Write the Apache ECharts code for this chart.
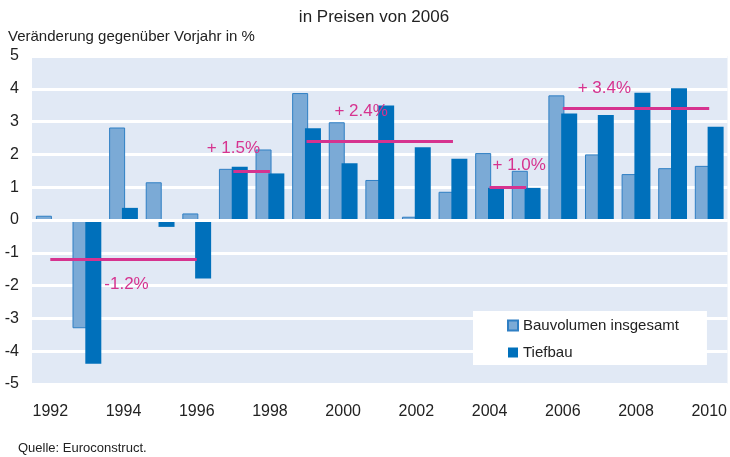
<!DOCTYPE html>
<html>
<head>
<meta charset="utf-8">
<title>Bauvolumen</title>
<style type="text/css">
html, body {
	margin: 0;
	padding: 0;
	background: #fff;
}
#main {
	width: 730px;
	height: 457px;
}
</style>
</head>
<body>
<div id="main"></div>
<script src="https://cdn.jsdelivr.net/npm/echarts@6/dist/echarts.min.js"></script>
<script type="text/javascript">
// Jahre
var years = ['1992','1993','1994','1995','1996','1997','1998','1999','2000','2001',
	'2002','2003','2004','2005','2006','2007','2008','2009','2010'];
// Bauvolumen insgesamt, Veränderung in %
var gesamt = [0.13, -3.3, 2.82, 1.15, 0.2, 1.56, 2.15, 3.87, 2.98, 1.22,
	0.1, 0.86, 2.04, 1.5, 3.8, 2.0, 1.4, 1.58, 1.65];
// Tiefbau, Veränderung in %
var tiefbau = [-0.05, -4.38, 0.37, -0.21, -1.78, 1.62, 1.42, 2.8, 1.73, 3.49,
	2.22, 1.87, 0.98, 0.98, 3.25, 3.2, 3.88, 4.02, 2.84];
// Durchschnitte: [von, bis, Wert]
var avgs = [['1992','1996',-1.2], ['1997','1998',1.5], ['1999','2003',2.4],
	['2004','2005',1.0], ['2006','2010',3.4]];
var avgLabels = ['-1.2%', '+ 1.5%', '+ 2.4%', '+ 1.0%', '+ 3.4%'];

var magenta = '#d6338f';
var font = 'Liberation Sans, Arial, sans-serif';

var avgLines = [{ yAxis: 0, lineStyle: { color: '#fff', width: 3 } }];
for (var i = 0; i < avgs.length; i++) {
	avgLines.push([{ coord: [avgs[i][0], avgs[i][2]] }, { coord: [avgs[i][1], avgs[i][2]] }]);
}

// Beschriftung der Durchschnitte
var labelPos = [
	{ coord: ['1994', -1.97], offset: [3, 0] },
	{ coord: ['1997', 2.2], offset: [0, 0] },
	{ coord: ['2000', 3.3], offset: [18, 0] },
	{ coord: ['2005', 1.68], offset: [-7, 0] },
	{ coord: ['2007', 4.0], offset: [5, 0] }
];
var avgPoints = labelPos.map(function (p, i) {
	return {
		coord: p.coord,
		label: { show: true, position: 'inside', offset: p.offset, formatter: avgLabels[i] }
	};
});

var option = {
	animation: false,
	textStyle: { fontFamily: font },
	title: [
		{
			text: 'in Preisen von 2006',
			left: 369, top: 4, textAlign: 'center',
			textStyle: { fontSize: 17, fontWeight: 'normal', color: '#222', fontFamily: font }
		},
		{
			text: 'Veränderung gegenüber Vorjahr in %',
			left: 3, top: 24,
			textStyle: { fontSize: 15, fontWeight: 'normal', color: '#222', fontFamily: font }
		},
		{
			text: 'Quelle: Euroconstruct.',
			left: 13, top: 437,
			textStyle: { fontSize: 13, fontWeight: 'normal', color: '#222', fontFamily: font }
		}
	],
	legend: {
		orient: 'vertical',
		left: 473,
		top: 311,
		backgroundColor: '#fff',
		padding: [7, 28, 5, 34],
		itemGap: 12,
		itemWidth: 10,
		itemHeight: 10,
		textStyle: { fontSize: 15, color: '#222', fontFamily: font },
		data: [
			{ name: 'Bauvolumen insgesamt', icon: 'rect' },
			{ name: 'Tiefbau', icon: 'rect' }
		]
	},
	grid: {
		left: 32, right: 2, top: 56, bottom: 73,
		show: true, backgroundColor: '#e1e9f5', borderWidth: 0
	},
	xAxis: {
		type: 'category',
		data: years,
		axisLine: { show: false },
		axisTick: { show: false },
		axisLabel: { interval: 1, margin: 20, fontSize: 16, color: '#222', fontFamily: font },
		splitLine: { show: false }
	},
	yAxis: {
		type: 'value',
		min: -5, max: 5, interval: 1,
		axisLine: { show: false },
		axisTick: { show: false },
		axisLabel: { margin: 13, fontSize: 16, color: '#222', fontFamily: font, padding: [4, 0, 0, 0] },
		splitLine: { lineStyle: { color: '#fff', width: 3 } }
	},
	series: [
		{
			name: 'Bauvolumen insgesamt',
			type: 'bar',
			barWidth: 16,
			barGap: '-20%',
			data: gesamt,
			itemStyle: { color: '#7baad6', borderColor: '#2f7fc4', borderWidth: 1 }
		},
		{
			name: 'Tiefbau',
			type: 'bar',
			barWidth: 16,
			data: tiefbau,
			itemStyle: { color: '#0070bb' }
		},
		{
			// Durchschnittslinien, an den Kategoriemitten
			name: 'Durchschnitt',
			type: 'line',
			data: [],
			z: 5,
			markLine: {
				silent: true,
				symbol: 'none',
				label: { show: false },
				lineStyle: { color: magenta, width: 3, type: 'solid' },
				data: avgLines
			},
			markPoint: {
				silent: true,
				symbol: 'circle',
				symbolSize: 0,
				itemStyle: { color: 'transparent' },
				label: { color: magenta, fontSize: 17, fontFamily: font },
				data: avgPoints
			}
		}
	]
};

var myChart = echarts.init(document.getElementById('main'));
myChart.setOption(option);
</script>
</body>
</html>
